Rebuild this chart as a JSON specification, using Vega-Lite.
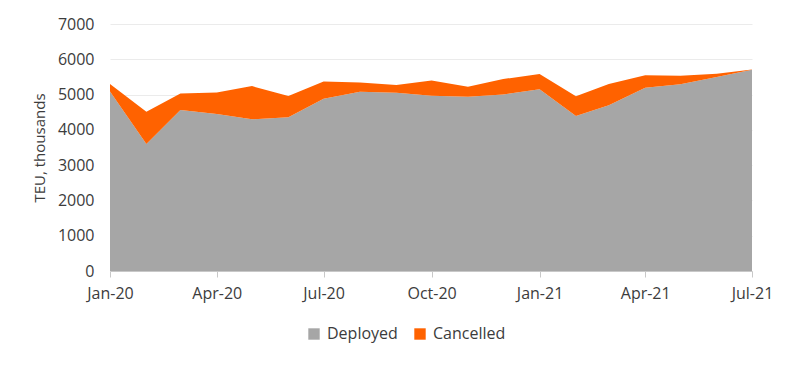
{
  "$schema": "https://vega.github.io/schema/vega-lite/v6.json",
  "autosize": {"type": "none"},
  "padding": {"left": 110, "top": 24, "right": 48, "bottom": 96},
  "width": 642,
  "height": 247,
  "background": "white",
  "config": {
    "view": {"stroke": null},
    "font": "Open Sans",
    "axis": {"labelFont": "Open Sans", "titleFont": "Open Sans", "labelColor": "#3c3c3c", "titleColor": "#3c3c3c", "labelFontSize": 16, "titleFontSize": 15, "titleFontWeight": "normal"},
    "legend": {"labelFont": "Open Sans", "labelFontSize": 16, "labelColor": "#3c3c3c"}
  },
  "data": {
    "values": [
      {"month": "2020-01-01", "series": "Deployed", "value": 5090},
      {"month": "2020-02-01", "series": "Deployed", "value": 3600},
      {"month": "2020-03-01", "series": "Deployed", "value": 4560},
      {"month": "2020-04-01", "series": "Deployed", "value": 4450},
      {"month": "2020-05-01", "series": "Deployed", "value": 4300},
      {"month": "2020-06-01", "series": "Deployed", "value": 4360},
      {"month": "2020-07-01", "series": "Deployed", "value": 4880},
      {"month": "2020-08-01", "series": "Deployed", "value": 5080},
      {"month": "2020-09-01", "series": "Deployed", "value": 5050},
      {"month": "2020-10-01", "series": "Deployed", "value": 4970},
      {"month": "2020-11-01", "series": "Deployed", "value": 4940},
      {"month": "2020-12-01", "series": "Deployed", "value": 5000},
      {"month": "2021-01-01", "series": "Deployed", "value": 5150},
      {"month": "2021-02-01", "series": "Deployed", "value": 4390},
      {"month": "2021-03-01", "series": "Deployed", "value": 4700},
      {"month": "2021-04-01", "series": "Deployed", "value": 5190},
      {"month": "2021-05-01", "series": "Deployed", "value": 5290},
      {"month": "2021-06-01", "series": "Deployed", "value": 5500},
      {"month": "2021-07-01", "series": "Deployed", "value": 5700},
      {"month": "2020-01-01", "series": "Cancelled", "value": 210},
      {"month": "2020-02-01", "series": "Cancelled", "value": 910},
      {"month": "2020-03-01", "series": "Cancelled", "value": 470},
      {"month": "2020-04-01", "series": "Cancelled", "value": 610},
      {"month": "2020-05-01", "series": "Cancelled", "value": 940},
      {"month": "2020-06-01", "series": "Cancelled", "value": 600},
      {"month": "2020-07-01", "series": "Cancelled", "value": 490},
      {"month": "2020-08-01", "series": "Cancelled", "value": 260},
      {"month": "2020-09-01", "series": "Cancelled", "value": 220},
      {"month": "2020-10-01", "series": "Cancelled", "value": 430},
      {"month": "2020-11-01", "series": "Cancelled", "value": 280},
      {"month": "2020-12-01", "series": "Cancelled", "value": 440},
      {"month": "2021-01-01", "series": "Cancelled", "value": 430},
      {"month": "2021-02-01", "series": "Cancelled", "value": 560},
      {"month": "2021-03-01", "series": "Cancelled", "value": 600},
      {"month": "2021-04-01", "series": "Cancelled", "value": 360},
      {"month": "2021-05-01", "series": "Cancelled", "value": 240},
      {"month": "2021-06-01", "series": "Cancelled", "value": 90},
      {"month": "2021-07-01", "series": "Cancelled", "value": 10}
    ]
  },
  "transform": [
    {"calculate": "datum.series === 'Deployed' ? 0 : 1", "as": "ord"}
  ],
  "mark": {"type": "area", "interpolate": "linear"},
  "encoding": {
    "x": {
      "field": "month", "type": "temporal",
      "scale": {"domain": [{"year": 2020, "month": 1, "date": 1}, {"year": 2021, "month": 7, "date": 1}], "nice": false},
      "axis": {
        "title": null,
        "format": "%b-%y",
        "values": [{"year": 2020, "month": 1, "date": 1}, {"year": 2020, "month": 4, "date": 1}, {"year": 2020, "month": 7, "date": 1}, {"year": 2020, "month": 10, "date": 1}, {"year": 2021, "month": 1, "date": 1}, {"year": 2021, "month": 4, "date": 1}, {"year": 2021, "month": 7, "date": 1}],
        "grid": false,
        "domainColor": "#c8c8c8",
        "tickColor": "#c8c8c8",
        "tickSize": 6,
        "labelPadding": 8,
        "labelFlush": false,
        "labelOverlap": false
      }
    },
    "y": {
      "field": "value", "type": "quantitative", "stack": "zero",
      "scale": {"domain": [0, 7000], "nice": false},
      "axis": {
        "title": "TEU, thousands",
        "format": "d",
        "values": [0, 1000, 2000, 3000, 4000, 5000, 6000, 7000],
        "domain": false,
        "ticks": false,
        "labelPadding": 16,
        "titlePadding": 10,
        "gridColor": "#ebebeb",
        "gridWidth": 1
      }
    },
    "color": {
      "field": "series", "type": "nominal",
      "scale": {"domain": ["Deployed", "Cancelled"], "range": ["#a6a6a6", "#ff6200"]},
      "legend": {
        "title": null,
        "orient": "none",
        "direction": "horizontal",
        "legendX": 196,
        "legendY": 302,
        "symbolType": "square",
        "symbolSize": 130,
        "symbolStrokeWidth": 0,
        "symbolOpacity": 1,
        "columnPadding": 14,
        "labelOffset": 5
      }
    },
    "order": {"field": "ord", "type": "quantitative"}
  }
}
